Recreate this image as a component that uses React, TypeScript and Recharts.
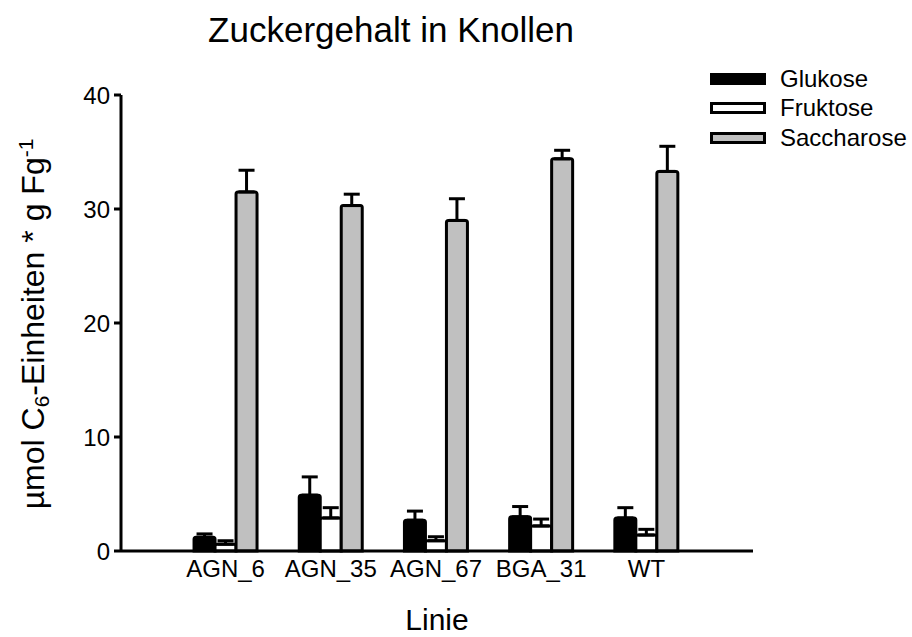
import React from "react";
import { Bar, BarChart, ErrorBar, XAxis, YAxis } from "recharts";

const FONT = '"Liberation Sans", Arial, sans-serif';

// Linien und Mittelwerte (µmol C6-Einheiten pro g FG)
const lines = ["AGN_6", "AGN_35", "AGN_67", "BGA_31", "WT"];
const glukose = [1.2, 4.9, 2.7, 3.0, 2.9];
const glukoseErr = [0.3, 1.6, 0.8, 0.9, 0.9];
const fruktose = [0.6, 2.9, 0.9, 2.2, 1.4];
const fruktoseErr = [0.3, 0.9, 0.35, 0.6, 0.5];
const saccharose = [31.5, 30.3, 29.0, 34.4, 33.3];
const saccharoseErr = [1.9, 1.0, 1.9, 0.75, 2.2];
const yTicks = [0, 10, 20, 30, 40];

const legendItems = [
	{ name: "Glukose", fill: "#000000" },
	{ name: "Fruktose", fill: "#ffffff" },
	{ name: "Saccharose", fill: "#c0c0c0" },
];

// nur nach oben gerichtete Fehlerbalken
const data = lines.map((linie, i) => ({
	linie,
	glukose: glukose[i],
	glukoseErr: [0, glukoseErr[i]],
	fruktose: fruktose[i],
	fruktoseErr: [0, fruktoseErr[i]],
	saccharose: saccharose[i],
	saccharoseErr: [0, saccharoseErr[i]],
}));

const tickStyle = { fontSize: 24, fill: "#000", fontFamily: FONT };

const YLabel = () => (
	<text
		x={44}
		y={324}
		transform="rotate(-90 44 324)"
		textAnchor="middle"
		fontSize={32}
		fontFamily={FONT}
		fill="#000"
	>
		µmol C
		<tspan fontSize={21} baselineShift="-25%">
			6
		</tspan>
		-Einheiten * g Fg
		<tspan fontSize={21} baselineShift="super">
			-1
		</tspan>
	</text>
);

const App = () => {
	return (
		<div
			style={{
				position: "absolute",
				left: 0,
				top: 0,
				width: 912,
				height: 637,
				background: "#fff",
				fontFamily: FONT,
			}}
		>
			<div
				style={{
					position: "absolute",
					left: 0,
					width: 782,
					top: 12,
					textAlign: "center",
					fontSize: 35,
					lineHeight: 1,
					color: "#000",
				}}
			>
				Zuckergehalt in Knollen
			</div>

			<div style={{ position: "absolute", left: 710, top: 64 }}>
				{legendItems.map((item) => (
					<div
						key={item.name}
						style={{
							display: "flex",
							alignItems: "center",
							height: 29.5,
						}}
					>
						<div
							style={{
								width: 50,
								height: 6,
								background: item.fill,
								border: "3px solid #000",
								marginRight: 14,
							}}
						/>
						<span style={{ fontSize: 24, color: "#000" }}>{item.name}</span>
					</div>
				))}
			</div>

			<BarChart
				width={912}
				height={637}
				data={data}
				margin={{ top: 95, right: 159, left: 0, bottom: 0 }}
				barCategoryGap="20%"
				barGap={0}
			>
				<XAxis
					dataKey="linie"
					height={86}
					padding={{ left: 52, right: 54 }}
					tickLine={false}
					tickSize={7}
					tickMargin={2}
					tick={tickStyle}
					axisLine={{ stroke: "#000", strokeWidth: 3 }}
					label={{
						value: "Linie",
						position: "insideBottom",
						offset: 7,
						fontSize: 30,
						fill: "#000",
						fontFamily: FONT,
					}}
				/>
				<YAxis
					width={121}
					domain={[0, 40]}
					ticks={yTicks}
					tickSize={7}
					tickMargin={4}
					tick={tickStyle}
					tickLine={{ stroke: "#000", strokeWidth: 3 }}
					axisLine={{ stroke: "#000", strokeWidth: 3 }}
					label={{ content: () => <YLabel /> }}
				/>
				<Bar
					dataKey="glukose"
					fill="#000000"
					stroke="#000"
					strokeWidth={3}
					radius={[2, 2, 0, 0]}
					isAnimationActive={false}
				>
					<ErrorBar
						dataKey="glukoseErr"
						width={8}
						stroke="#000"
						strokeWidth={3}
						isAnimationActive={false}
					/>
				</Bar>
				<Bar
					dataKey="fruktose"
					fill="#ffffff"
					stroke="#000"
					strokeWidth={3}
					radius={[2, 2, 0, 0]}
					isAnimationActive={false}
				>
					<ErrorBar
						dataKey="fruktoseErr"
						width={8}
						stroke="#000"
						strokeWidth={3}
						isAnimationActive={false}
					/>
				</Bar>
				<Bar
					dataKey="saccharose"
					fill="#c0c0c0"
					stroke="#000"
					strokeWidth={3}
					radius={[2, 2, 0, 0]}
					isAnimationActive={false}
				>
					<ErrorBar
						dataKey="saccharoseErr"
						width={8}
						stroke="#000"
						strokeWidth={3}
						isAnimationActive={false}
					/>
				</Bar>
			</BarChart>
		</div>
	);
};

export default App;
